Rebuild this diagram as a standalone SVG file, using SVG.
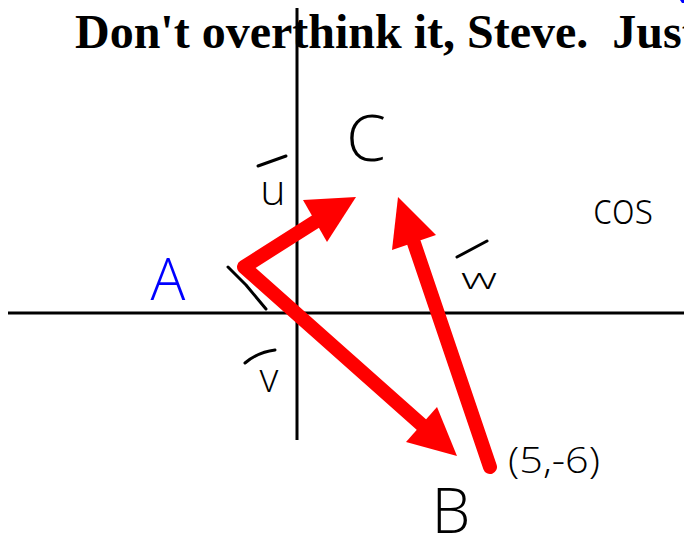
<svg xmlns="http://www.w3.org/2000/svg" width="684" height="538" viewBox="0 0 684 538">
  <style>
    .title { font-family: "Liberation Serif", "Times New Roman", serif; font-weight: bold; font-size: 48px; fill: #000; white-space: pre; }
    .hand { font-family: "Open Sans", "Liberation Sans", sans-serif; font-weight: 300; fill: #000; }
    .axis { stroke: #000; stroke-width: 3; fill: none; }
    .mark { stroke: #000; stroke-width: 3; fill: none; stroke-linecap: round; stroke-linejoin: round; }
    .vec { stroke: #ff0000; stroke-width: 14; fill: none; stroke-linecap: round; stroke-linejoin: round; }
    .head { fill: #ff0000; stroke: none; }
  </style>
  <rect width="684" height="538" fill="#fff"/>

  <g id="title">
    <text class="title" x="75" y="48" xml:space="preserve">Don't overthink it, Steve.  Just</text>
    <path d="M680,0 L684,0 L684,3 L682,3 Z" fill="#0000ff"/>
  </g>

  <g id="axes">
    <line class="axis" x1="8" y1="313" x2="684" y2="313"/>
    <line class="axis" x1="297" y1="8" x2="297" y2="440"/>
  </g>

  <g id="connectors">
    <path class="vec" d="M318,220 L244,267 L423,426"/>
    <polygon class="head" points="356,197 303,200 327,242"/>
    <polygon class="head" points="457,456 437,407 406,442"/>
    <line class="vec" x1="490" y1="467" x2="414" y2="243"/>
    <polygon class="head" points="398,197 392,250 436,235"/>
  </g>

  <g id="node-A">
    <text class="hand" x="168" y="300" font-size="58" text-anchor="middle" style="fill:#0000ff">A</text>
    <path class="mark" d="M228,267 L246,285 L266,309"/>
  </g>

  <g id="node-C">
    <text class="hand" x="366" y="161" font-size="64" text-anchor="middle">C</text>
  </g>

  <g id="node-B">
    <text class="hand" x="451" y="533" font-size="62" text-anchor="middle">B</text>
    <text class="hand" x="508" y="473" font-size="36" textLength="92" lengthAdjust="spacingAndGlyphs">(5,-6)</text>
  </g>

  <g id="label-u">
    <line class="mark" x1="258" y1="166" x2="286" y2="156"/>
    <text class="hand" x="273" y="205" font-size="43" text-anchor="middle">u</text>
  </g>

  <g id="label-v">
    <path class="mark" d="M245,363 Q258,352 275,350"/>
    <text class="hand" x="269" y="392" font-size="41" text-anchor="middle">v</text>
  </g>

  <g id="label-w">
    <line class="mark" x1="457" y1="257" x2="487" y2="241"/>
    <text class="hand" x="461" y="289" font-size="30" textLength="36" lengthAdjust="spacingAndGlyphs">w</text>
  </g>

  <g id="label-cos">
    <text class="hand" x="593" y="224" font-size="44" textLength="60" lengthAdjust="spacingAndGlyphs">cos</text>
  </g>
</svg>
